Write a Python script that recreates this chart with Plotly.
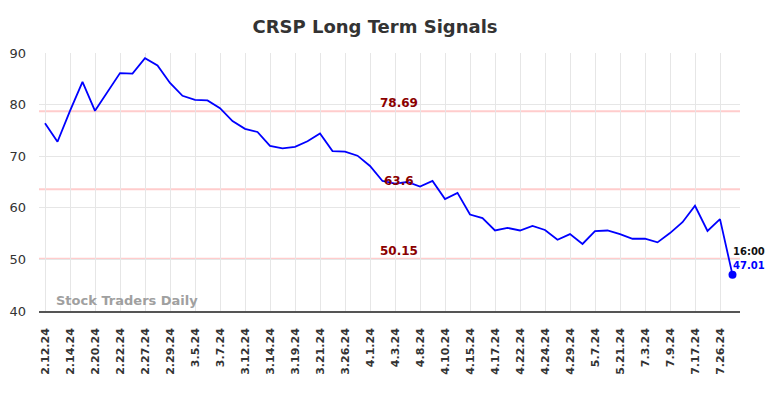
import plotly.graph_objects as go

tick_labels = ["2.12.24", "2.14.24", "2.20.24", "2.22.24", "2.27.24", "2.29.24", "3.5.24",
               "3.7.24", "3.12.24", "3.14.24", "3.19.24", "3.21.24", "3.26.24", "4.1.24",
               "4.3.24", "4.8.24", "4.10.24", "4.15.24", "4.17.24", "4.22.24", "4.24.24",
               "4.29.24", "5.7.24", "5.21.24", "7.3.24", "7.9.24", "7.17.24", "7.26.24"]

values = [76.4, 72.8, 78.8, 84.4, 78.8, 82.5, 86.1, 86.0, 89.0, 87.6,
          84.2, 81.7, 80.9, 80.8, 79.3, 76.8, 75.3, 74.7, 72.0, 71.5,
          71.8, 72.9, 74.4, 71.0, 70.9, 70.1, 68.1, 65.2, 64.7, 65.0,
          64.1, 65.2, 61.7, 62.9, 58.7, 58.0, 55.6, 56.1, 55.6, 56.5,
          55.7, 53.8, 54.9, 53.0, 55.5, 55.6, 54.9, 54.0, 54.0, 53.3,
          55.1, 57.2, 60.4, 55.5, 57.8, 47.01]

levels = [78.69, 63.6, 50.15]
level_labels = ["78.69", "63.6", "50.15"]
last_time = "16:00"

x = list(range(len(values)))
tick_vals = [i * 2 for i in range(len(tick_labels))]

fig = go.Figure()
fig.add_trace(go.Scatter(x=x, y=values, mode="lines",
                         line=dict(color="#0000ff", width=1.8), hoverinfo="skip"))
fig.add_trace(go.Scatter(x=[x[-1]], y=[values[-1]], mode="markers",
                         marker=dict(color="#0000ff", size=8), hoverinfo="skip"))

for lv, lt in zip(levels, level_labels):
    fig.add_shape(type="line", xref="paper", x0=0, x1=1, y0=lv, y1=lv,
                  line=dict(color="#ffcccc", width=2), layer="below")
    fig.add_annotation(x=28.3, y=lv, text="<b>" + lt + "</b>", showarrow=False,
                       yshift=8,
                       font=dict(color="#8b0000", size=12, family="DejaVu Sans"))

fig.add_annotation(x=x[-1], y=values[-1], text="<b>" + last_time + "</b>", showarrow=False,
                   xanchor="left", yshift=23, xshift=-2,
                   font=dict(color="#111111", size=10, family="DejaVu Sans"))
fig.add_annotation(x=x[-1], y=values[-1], text="<b>%.2f</b>" % values[-1], showarrow=False,
                   xanchor="left", yshift=9, xshift=-2,
                   font=dict(color="#0000ff", size=10, family="DejaVu Sans"))
fig.add_annotation(xref="paper", yref="paper", x=0.0214, y=0.0, yanchor="bottom", xanchor="left",
                   text="<b>Stock Traders Daily</b>", showarrow=False, yshift=1,
                   font=dict(color="#a0a0a0", size=13, family="DejaVu Sans"))

# page body has an 8px margin, so the figure is offset by 8px
fig.update_layout(
    width=776, height=390,
    margin=dict(l=31, r=44, t=45, b=87),
    paper_bgcolor="white", plot_bgcolor="white",
    showlegend=False,
    title=dict(text="<b>CRSP Long Term Signals</b>", x=367 / 776, xanchor="center",
               y=1 - 19 / 390, yanchor="middle", yref="container",
               font=dict(size=18, color="#333333", family="DejaVu Sans")),
    font=dict(family="DejaVu Sans", color="#333333"),
)
fig.update_xaxes(range=[-0.48, 55.6], tickvals=tick_vals, ticktext=["<b>" + t + "</b>" for t in tick_labels],
                 tickangle=-90, showgrid=True, gridcolor="#e6e6e6", gridwidth=1,
                 showline=True, linecolor="#555555", linewidth=1.5, zeroline=False,
                 automargin=False,
                 ticks="", ticklabelstandoff=11, tickfont=dict(size=11, color="#333333"))
fig.update_yaxes(range=[40, 90], dtick=10, showgrid=True, gridcolor="#e6e6e6",
                 zeroline=False, showline=False, ticks="", ticklen=0, ticklabelstandoff=12,
                 automargin=False,
                 tickfont=dict(size=13, color="#333333"))

fig.write_html("out.html")
